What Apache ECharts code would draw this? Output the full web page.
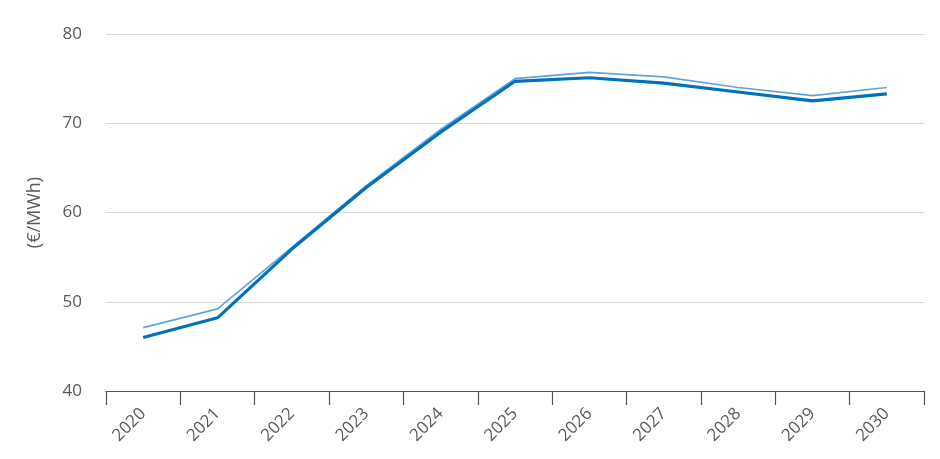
<!DOCTYPE html>
<html>
<head>
<meta charset="utf-8">
<script src="https://cdn.jsdelivr.net/npm/echarts@6/dist/echarts.min.js"></script>
<style>
html,body{margin:0;padding:0;background:#fff;}
#chart{width:940px;height:459px;}
</style>
</head>
<body>
<div id="chart"></div>
<script>
const categories = ['2020','2021','2022','2023','2024','2025','2026','2027','2028','2029','2030'];
const seriesThin = [47.1, 49.2, 56.1, 63.0, 69.3, 75.0, 75.7, 75.2, 74.0, 73.1, 74.0];
const seriesThick = [46.0, 48.2, 55.9, 62.8, 69.0, 74.7, 75.1, 74.5, 73.5, 72.5, 73.3];
const yTicks = {min: 40, max: 80, interval: 10};
const yName = '(€/MWh)';

const chart = echarts.init(document.getElementById('chart'), null, {renderer: 'canvas'});
const font = '"Open Sans", "Noto Sans", sans-serif';
chart.setOption({
  animation: false,
  grid: {left: 106, right: 16, top: 34, bottom: 68, containLabel: false},
  xAxis: {
    type: 'category',
    data: categories,
    boundaryGap: true,
    axisLine: {show: true, lineStyle: {color: '#555', width: 1.2}},
    axisTick: {show: true, length: 14, lineStyle: {color: '#555', width: 1.2}},
    axisLabel: {rotate: 45, margin: 20, color: '#595959', fontSize: 17, fontFamily: font},
    splitLine: {show: false}
  },
  yAxis: {
    type: 'value',
    min: yTicks.min, max: yTicks.max, interval: yTicks.interval,
    name: yName,
    nameLocation: 'middle',
    nameGap: 62,
    nameRotate: 90,
    nameTextStyle: {color: '#595959', fontSize: 18, fontFamily: font},
    axisLine: {show: false},
    axisTick: {show: false},
    axisLabel: {margin: 24, color: '#595959', fontSize: 17, fontFamily: font},
    splitLine: {show: true, lineStyle: {color: '#d9d9d9', width: 1}}
  },
  series: [
    {
      type: 'line', data: seriesThin, symbol: 'none',
      lineStyle: {color: '#5fa4dc', width: 1.6},
      z: 2
    },
    {
      type: 'line', data: seriesThick, symbol: 'none',
      lineStyle: {color: '#0071ba', width: 3.2},
      z: 3
    }
  ]
});
</script>
</body>
</html>
